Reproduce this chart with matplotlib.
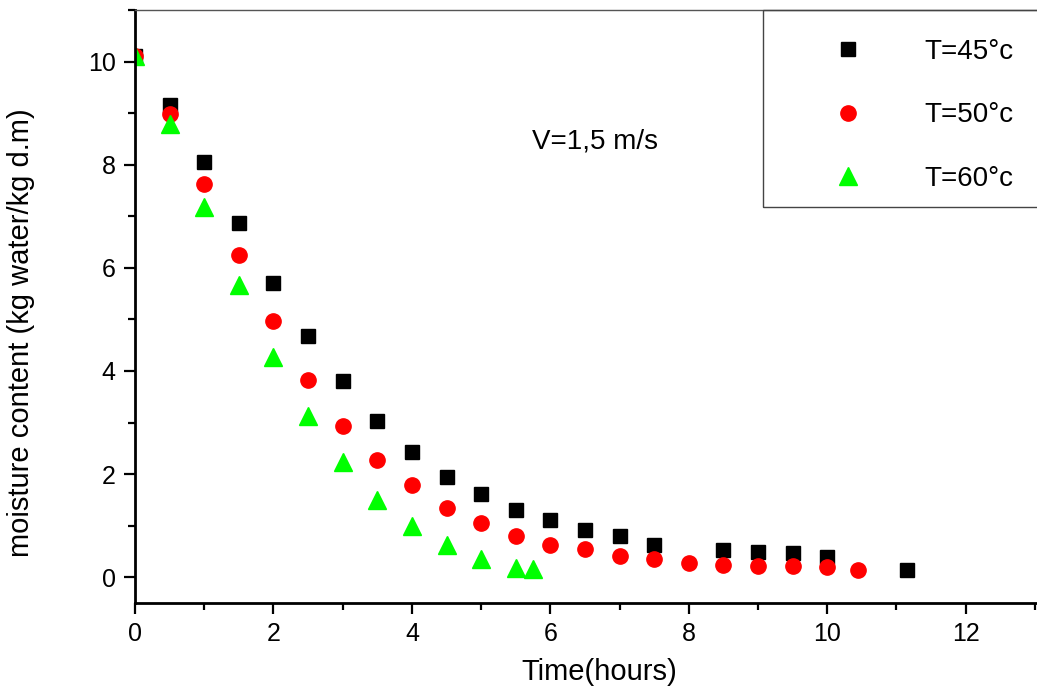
import matplotlib
matplotlib.use("Agg")
import matplotlib.pyplot as plt
from matplotlib.patches import Rectangle
from matplotlib.ticker import MultipleLocator

plt.rcParams["font.family"] = ["Liberation Sans", "DejaVu Sans"]

# ── data ──
t_45 = [0, 0.5, 1, 1.5, 2, 2.5, 3, 3.5, 4, 4.5, 5, 5.5, 6, 6.5, 7, 7.5, 8.5, 9, 9.5, 10, 11.15]
m_45 = [10.1, 9.16, 8.05, 6.87, 5.7, 4.68, 3.8, 3.02, 2.42, 1.95, 1.62, 1.31, 1.10, 0.92, 0.79, 0.63,
        0.52, 0.48, 0.47, 0.40, 0.14]

t_50 = [0, 0.5, 1, 1.5, 2, 2.5, 3, 3.5, 4, 4.5, 5, 5.5, 6, 6.5, 7, 7.5, 8, 8.5, 9, 9.5, 10, 10.45]
m_50 = [10.1, 8.98, 7.63, 6.25, 4.97, 3.83, 2.93, 2.28, 1.78, 1.35, 1.05, 0.80, 0.63, 0.54, 0.41, 0.35,
        0.28, 0.23, 0.21, 0.21, 0.19, 0.14]

t_60 = [0, 0.5, 1, 1.5, 2, 2.5, 3, 3.5, 4, 4.5, 5, 5.5, 5.75]
m_60 = [10.1, 8.78, 7.18, 5.67, 4.27, 3.13, 2.24, 1.5, 1.0, 0.62, 0.35, 0.18, 0.16]

labels = ["T=45°c", "T=50°c", "T=60°c"]

W, H = 1037, 693
fig = plt.figure(figsize=(W / 100, H / 100), dpi=100)
ax = fig.add_axes([135 / W, 1 - 603 / H, 1 - 135 / W, (603 - 10) / H])

ax.plot(t_45, m_45, ls="none", marker="s", ms=10, color="black", mec="black", label=labels[0])
ax.plot(t_50, m_50, ls="none", marker="o", ms=11, color="#ff0000", mec="#ff0000", label=labels[1])
ax.plot(t_60, m_60, ls="none", marker="^", ms=12.5, color="#00ff00", mec="#00ff00", label=labels[2])

ax.set_xlim(0, 13.03)
ax.set_ylim(-0.5, 11.0)
ax.xaxis.set_major_locator(MultipleLocator(2))
ax.xaxis.set_minor_locator(MultipleLocator(1))
ax.yaxis.set_major_locator(MultipleLocator(2))
ax.yaxis.set_minor_locator(MultipleLocator(1))
ax.tick_params(which="major", length=8, width=1.6, labelsize=18, pad=6)
ax.tick_params(which="minor", length=5, width=1.6)
ax.spines["left"].set_linewidth(2)
ax.spines["bottom"].set_linewidth(2)
ax.spines["right"].set_visible(False)
ax.spines["top"].set_linewidth(1)
ax.spines["top"].set_color("#555555")

ax.set_xlabel("Time(hours)", fontsize=21)
ax.set_ylabel("moisture content (kg water/kg d.m)", fontsize=21)
ax.xaxis.set_label_coords((599 - 135) / 902, -(658 - 603) / 593)
ax.yaxis.set_label_coords((35 - 135) / 902, (603 - 333) / 593)

ax.text(595 / W, 1 - 141 / H, "V=1,5 m/s", transform=fig.transFigure, fontsize=20,
        ha="center", va="center")

# legend box (right side runs off the figure)
fig.patches.append(Rectangle((763 / W, 1 - 207 / H), 0.5, (207 - 10) / H, transform=fig.transFigure,
                             fill=False, edgecolor="#444444", linewidth=1))
leg = fig.legend(loc="upper left", bbox_to_anchor=(834 / W, 1 - 39 / H), frameon=False,
                 fontsize=20, handlelength=1.0, handletextpad=2.27, labelspacing=1.35,
                 borderpad=0, borderaxespad=0, numpoints=1)

fig.savefig("out.png", dpi=100)
